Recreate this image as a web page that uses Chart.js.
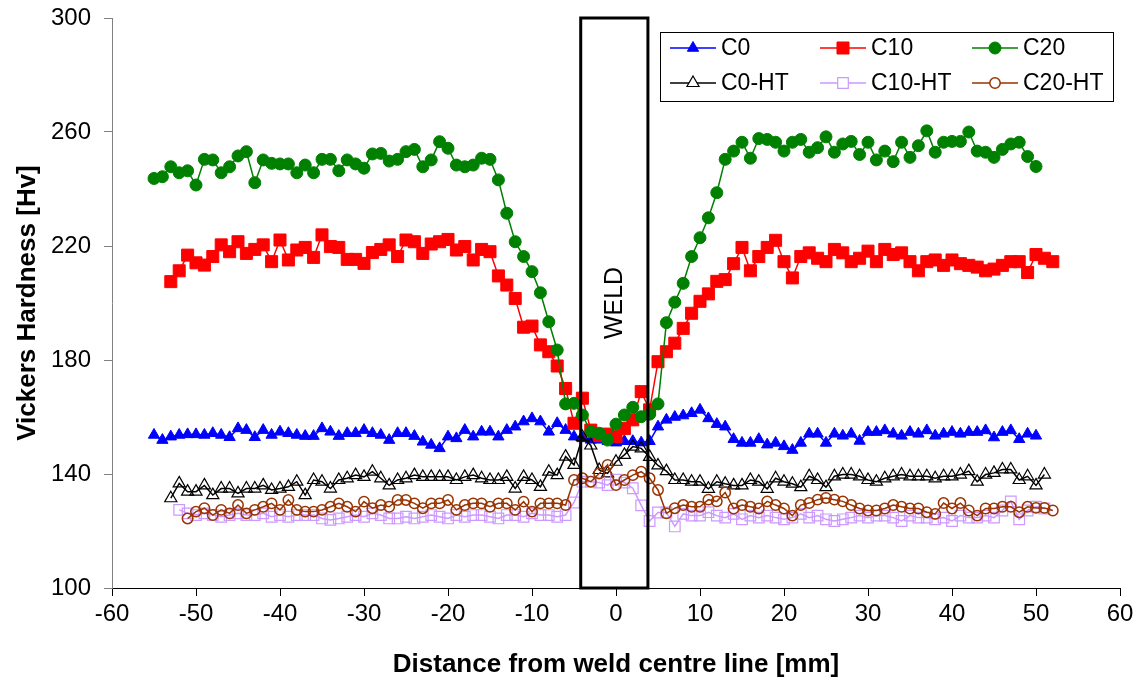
<!DOCTYPE html>
<html lang="en">
  <head>
    <meta charset="UTF-8" />
    <title>Vickers Hardness across the weld</title>
    <script src="https://cdn.jsdelivr.net/npm/chart.js@4.4.1/dist/chart.umd.min.js"></script>
    <style>
      html,
      body {
        margin: 0;
        padding: 0;
        background: #fff;
      }
    </style>
  </head>
  <body>
    <canvas id="hardnessChart" width="1143" height="683"></canvas>

    <script>
      // x axis: distance from weld centre line [mm], one reading per mm
      const xTicks = [-60, -50, -40, -30, -20, -10, 0, 10, 20, 30, 40, 50, 60];
      const yTicks = [100, 140, 180, 220, 260, 300];
      const weldFrom = -4.2;
      const weldTo = 3.8;

      // first reading (mm) of each series
      const c0From = -55;
      const c10From = -53;
      const c20From = -55;
      const c0htFrom = -53;
      const c10htFrom = -52;
      const c20htFrom = -51;

      // Hv readings
      const c0 = [
        153.7, 151.9, 153.1, 153.7, 153.9, 153.9, 153.7, 154.3, 153.7, 152.9,
        156, 155.4, 152.9, 155.4, 153.7, 154.8, 154.3, 153.7, 153.3, 153.3,
        156, 154.8, 153.3, 154.3, 154.3, 155.4, 154.3, 153.7, 151.9, 154.3,
        154.3, 153.3, 151.3, 150.2, 149, 153.1, 152.5, 155.4, 153.1, 154.8,
        154.8, 153.1, 155.4, 156.6, 158.4, 159.5, 158.4, 154.8, 157.8, 155.4,
        153.1,
        152.5, 152, 152, 151.5, 151, 151.5, 151.5, 151, 151.5, 156.6, 159,
        160, 160.5, 161.3, 162.5, 159.5, 157.5,
        156.6, 152.2, 150.9, 150.9, 152.2, 150.3, 150.9, 149.7, 148.4, 150.9,
        154.1, 154.1, 150.9, 154.1, 153.4, 154.1, 151.6, 154.7, 154.7, 155.3,
        154.1, 153.4, 154.7, 154.1, 155.3, 153.4, 154.1, 154.7, 154.1, 154.7,
        154.7, 155.3, 152.8, 154.7, 155.3, 152.2, 154.1, 153.4
      ];
      const c10 = [
        207.5, 211.3, 216.8, 214.1, 213.3, 216.3, 220.4, 218, 221.5, 217.4,
        218.8, 220.4, 214.5, 222.1, 215.1, 218.6, 219.5, 216, 223.9, 219.8,
        219.5, 215.3, 215.3, 213.9, 217.7, 218.8, 220.4, 216.3, 222.1, 221.5,
        217.4, 220.7, 221.5, 222.3, 218.6, 219.8, 215.1, 218.8, 218,
        209.5, 206.3, 201.6, 191.5, 191.9, 185.3, 182.9, 177.9, 170, 157.8,
        166.6, 155.4, 153.5, 154, 153.1, 156, 159, 168.9, 162.5, 179.4,
        182.9, 185.9, 191.1, 196.4, 200.6,
        203.2, 207.6, 208.2, 213.8, 219.5, 211.3, 216.3, 219.5, 222, 214.5,
        208.8, 216.3, 217.6, 215.7, 214.5, 218.8, 217.6, 214.5, 215.7, 218.2,
        214.5, 218.8, 217, 217.6, 214.5, 211.3, 214.5, 215.1, 213.2, 215.1,
        213.8, 213.2, 212.6, 211.3, 211.9, 213.2, 214.5, 214.5, 210.7, 217,
        215.7, 214.5
      ];
      const c20 = [
        243.7, 244.3, 247.8, 245.7, 246.4, 241.4, 250.4, 250.2, 245.7, 247.8,
        251.6, 253.1, 242.2, 250.2, 249, 248.8, 248.8, 245.7, 248.4, 245.7,
        250.4, 250.4, 246.4, 250.2, 248.8, 247.3, 252.3, 252.5, 249.8, 250.4,
        253.1, 253.9, 247.8, 250.2, 256.6, 254.3, 248.4, 247.8, 248.4, 250.8,
        250.4, 243.2, 231.5, 221.5, 216.3, 211, 203.6,
        193.4, 183.5, 164.6, 164.8, 160.7, 154.8, 154.3, 151.9, 157.5, 160.7,
        163.4, 160.1, 161, 164.6, 193.1,
        200.3, 206.9, 216.3, 222.9, 229.9, 238.7, 250.4, 253.3, 256.4, 250.8,
        257.7, 257.4, 256.4, 253.3, 256.4, 257.4, 252.9, 254.5, 258.3, 252.9,
        255.8, 256.7, 252.1, 256.4, 250.2, 253.3, 249.6, 256.4, 251.1, 255.2,
        260.4, 252.9, 256.4, 256.7, 256.7, 260, 253.3, 252.9, 251.1, 253.9,
        255.8, 256.4, 251.4, 247.9
      ];
      const c0ht = [
        131.5, 136.7, 133.8, 133.8, 136, 132.6, 134.9, 134.9, 133.2, 134.9,
        134.9, 136, 134.4, 134.9, 135.5, 137.3, 132.6, 137.9, 137.3, 134.9,
        137.9, 138.5, 139.6, 139, 140.8, 138.5, 136, 137.9, 138.5, 139.6,
        139, 139, 139, 139, 137.9, 139, 139.6, 138.5, 137.9, 137.9,
        139, 134.9, 139, 137.9, 135.5, 140.8, 139.6, 146.1, 143.2,
        153, 150, 141.4, 140.2, 144.3, 146.7, 149.6, 149, 146, 143, 141,
        137.9, 137.9, 137.3, 137.3, 134.8, 137.3, 136.6, 136, 136, 137.9,
        137.3, 134.8, 138.5, 137.3, 136.6, 135.4, 139.2, 137.9, 135.4, 139.2,
        139.8, 139.8, 139.2, 137.9, 137.3, 138.5, 139.2, 139.8, 139.2, 139.2,
        139.2, 138.5, 139.2, 139.2, 139.8, 141, 137.3, 139.8, 140.4, 141.6,
        141.6, 137.9, 139.2, 136, 139.8
      ];
      const c10ht = [
        127.4, 126.2, 125.6, 126.2, 125.6, 125, 125.6, 126.2, 125.6, 125.6,
        126.2, 125, 125.6, 125, 125.6, 125.6, 125.6, 124.4, 123.9, 124.4,
        125, 125.6, 125, 126.2, 125.6, 124.4, 124.4, 125, 124.4, 125,
        125.6, 125, 124.4, 125.6, 125, 125.6, 125.6, 125, 124.4, 125.6,
        125.6, 125, 126.2, 125.6, 125.6, 125, 125.6, 130,
        137.3, 137.3, 137, 136.1, 138, 137, 135, 129, 123.5, 126.5, 126.5,
        121.6, 126, 125.4, 125.4, 126.6, 125.4, 124.7, 126, 124.1, 125.4,
        124.7, 125.4, 124.7, 124.1, 124.7, 126, 124.7, 125.4, 124.1, 123.5,
        124.1, 124.7, 125.4, 124.7, 125.4, 125.4, 124.7, 123.5, 125.4, 124.7,
        124.7, 124.1, 124.7, 123.5, 125.4, 124.7, 124.7, 125.4, 124.7, 127.2,
        130.4, 124.1, 127.2, 128.5, 127.9
      ];
      const c20ht = [
        124.4, 126.8, 128, 125.6, 127.4, 126.2, 129.1, 126.2, 127.4, 128.5,
        129.7, 127.4, 130.9, 127.4, 126.8, 126.8, 127.4, 128.5, 129.7, 128.5,
        126.8, 130.3, 128, 129.1, 128.5, 130.9, 130.9, 129.7, 128, 129.7,
        129.7, 130.9, 127.4, 129.1, 129.7, 129.7, 128.5, 129.7, 129.7, 127.4,
        130.3, 126.8, 129.7, 129.7, 129.7, 129.1,
        137.9, 138.5, 137.3, 140.2, 143.2, 136.1, 137.9, 139.6, 140.8, 138.5,
        134.4, 126.2, 128, 129.1,
        128.5, 128.5, 131, 130.4, 133.5, 127.9, 129.1, 128.5, 127.9, 130.4,
        129.1, 127.9, 125.4, 129.1, 129.8, 131, 131.6, 131, 130.4, 129.1,
        127.9, 127.2, 127.2, 127.9, 129.1, 128.5, 127.9, 127.9, 126.6, 126,
        129.8, 127.9, 129.8, 127.2, 125.4, 127.9, 127.9, 128.5, 128.5, 126.6,
        128.5, 128.1, 128.1, 127.2
      ];

      const FONT = '"Liberation Sans", Arial, sans-serif';

      const series = [
        { label: "C0", from: c0From, values: c0, color: "#0000ff", style: "triangle", radius: 6.5, filled: true, bw: 1 },
        { label: "C10", from: c10From, values: c10, color: "#ff0000", style: "rect", radius: 8.5, filled: true, bw: 1 },
        { label: "C20", from: c20From, values: c20, color: "#008000", style: "circle", radius: 6, filled: true, bw: 1 },
        { label: "C0-HT", from: c0htFrom, values: c0ht, color: "#000000", style: "triangle", radius: 7, filled: false, bw: 1.2 },
        { label: "C10-HT", from: c10htFrom, values: c10ht, color: "#cc99ff", style: "rect", radius: 7.5, filled: false, bw: 1.2 },
        { label: "C20-HT", from: c20htFrom, values: c20ht, color: "#993300", style: "circle", radius: 5.2, filled: false, bw: 1.5 }
      ];

      function toPoints(from, values) {
        return values.map((v, i) => ({ x: from + i, y: v }));
      }

      // legend layout (pixels)
      const legendBox = { left: 660, top: 32, width: 453, height: 69 };
      const legendCols = [670, 820, 972];
      const legendRows = [48, 83];

      function drawMarker(ctx, s, x, y, fill) {
        ctx.fillStyle = fill;
        ctx.strokeStyle = s.color;
        ctx.lineWidth = s.bw;
        Chart.helpers.drawPoint(
          ctx,
          { pointStyle: s.style, radius: s.radius, rotation: 0, borderWidth: s.bw },
          x,
          y
        );
      }

      const weldAndLegend = {
        id: "weldAndLegend",
        afterDatasetsDraw(chart) {
          const { ctx } = chart;
          const xs = chart.scales.x;
          const ys = chart.scales.y;
          const left = xs.getPixelForValue(weldFrom);
          const right = xs.getPixelForValue(weldTo);
          const top = ys.getPixelForValue(ys.max);
          const bottom = ys.getPixelForValue(ys.min);

          ctx.save();
          ctx.lineWidth = 3;
          ctx.strokeStyle = "#000";
          ctx.strokeRect(left, top, right - left, bottom - top);

          ctx.translate((left + right) / 2 + 1, (top + bottom) / 2);
          ctx.rotate(-Math.PI / 2);
          ctx.font = "25px " + FONT;
          ctx.fillStyle = "#000";
          ctx.textAlign = "center";
          ctx.textBaseline = "middle";
          ctx.fillText("WELD", 0, 0);
          ctx.restore();

          // legend
          ctx.save();
          ctx.fillStyle = "#fff";
          ctx.fillRect(legendBox.left, legendBox.top, legendBox.width, legendBox.height);
          ctx.lineWidth = 1;
          ctx.strokeStyle = "#000";
          ctx.strokeRect(legendBox.left + 0.5, legendBox.top + 0.5, legendBox.width, legendBox.height);
          series.forEach((s, i) => {
            const x0 = legendCols[i % 3];
            const yc = legendRows[Math.floor(i / 3)];
            ctx.beginPath();
            ctx.strokeStyle = s.color;
            ctx.lineWidth = 1.5;
            ctx.moveTo(x0, yc);
            ctx.lineTo(x0 + 46, yc);
            ctx.stroke();
            drawMarker(ctx, s, x0 + 23, yc, s.filled ? s.color : "#fff");
            ctx.fillStyle = "#000";
            ctx.font = "23px " + FONT;
            ctx.textAlign = "left";
            ctx.textBaseline = "middle";
            ctx.fillText(s.label, x0 + 51, yc + 1);
          });
          ctx.restore();
        }
      };

      const ctx = document.getElementById("hardnessChart").getContext("2d");
      new Chart(ctx, {
        type: "line",
        data: {
          datasets: series.map((s, i) => ({
            label: s.label,
            data: toPoints(s.from, s.values),
            borderColor: s.color,
            borderWidth: 1.5,
            pointStyle: s.style,
            pointRadius: s.radius,
            pointBorderWidth: s.bw,
            pointBorderColor: s.color,
            pointBackgroundColor: s.filled ? s.color : "rgba(0,0,0,0)",
            tension: 0,
            order: series.length - i
          }))
        },
        options: {
          responsive: false,
          animation: false,
          devicePixelRatio: 1,
          layout: { padding: { top: 18, right: 23, left: 0, bottom: 0 } },
          plugins: {
            legend: { display: false },
            tooltip: { enabled: false }
          },
          scales: {
            x: {
              type: "linear",
              min: xTicks[0],
              max: xTicks[xTicks.length - 1],
              afterBuildTicks: (scale) => {
                scale.ticks = xTicks.map((v) => ({ value: v }));
              },
              afterFit: (scale) => {
                scale.height = 95;
              },
              border: { color: "#000", width: 1 },
              grid: { drawOnChartArea: false, tickLength: 8, color: "#000" },
              ticks: { color: "#000", padding: 4, font: { family: FONT, size: 24 } },
              title: {
                display: true,
                text: "Distance from weld centre line [mm]",
                color: "#000",
                padding: { top: 0, bottom: 3 },
                font: { family: FONT, size: 26, weight: "bold" }
              }
            },
            y: {
              min: yTicks[0],
              max: yTicks[yTicks.length - 1],
              afterBuildTicks: (scale) => {
                scale.ticks = yTicks.map((v) => ({ value: v }));
              },
              afterFit: (scale) => {
                scale.width = 112;
              },
              border: { color: "#808080", width: 1 },
              grid: { drawOnChartArea: false, tickLength: 8, color: "#808080" },
              // small lineHeight keeps the label padding from pushing the plot down
              ticks: { color: "#000", padding: 13, font: { family: FONT, size: 24, lineHeight: 0.4 } },
              title: {
                display: true,
                text: "Vickers Hardness [Hv]",
                color: "#000",
                padding: { top: 12, bottom: 0 },
                font: { family: FONT, size: 26, weight: "bold" }
              }
            }
          }
        },
        plugins: [weldAndLegend]
      });
    </script>
  </body>
</html>
